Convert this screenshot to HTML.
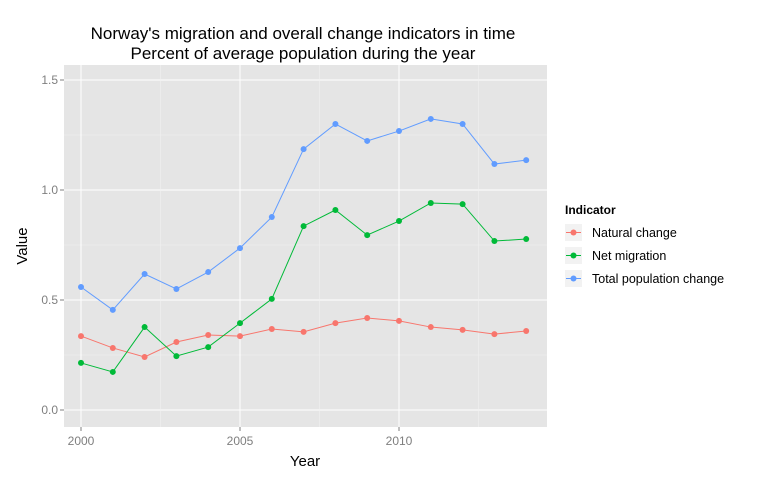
<!DOCTYPE html>
<html><head><meta charset="utf-8"><style>
body{margin:0;background:#fff;font-family:"Liberation Sans",Arial,sans-serif;}
</style></head><body>
<svg id="chart" width="768" height="480" xmlns="http://www.w3.org/2000/svg">
<text x="303" y="39" text-anchor="middle" font-size="17">Norway's migration and overall change indicators in time</text>
<text x="303" y="59" text-anchor="middle" font-size="17">Percent of average population during the year</text>
<rect x="64" y="65" width="483" height="362" fill="#e5e5e5"/>
<g id="grid"></g><g id="axes"></g><g id="series"></g>
<text x="305" y="466" text-anchor="middle" font-size="15">Year</text>
<text x="27" y="246" text-anchor="middle" font-size="15" transform="rotate(-90 27 246)">Value</text>
<g>
<text x="565" y="214" font-size="12" font-weight="bold">Indicator</text>
<g id="legend"></g>
</g>
</svg>
<script>
const years=[2000,2001,2002,2003,2004,2005,2006,2007,2008,2009,2010,2011,2012,2013,2014];
const natural=[0.336,0.282,0.241,0.309,0.341,0.336,0.368,0.355,0.395,0.418,0.405,0.377,0.364,0.345,0.359];
const netMigration=[0.214,0.173,0.377,0.245,0.286,0.395,0.505,0.836,0.909,0.795,0.859,0.941,0.936,0.768,0.777];
const total=[0.559,0.455,0.618,0.55,0.627,0.736,0.877,1.186,1.3,1.223,1.268,1.323,1.3,1.118,1.136];
const yTicks=[0,0.5,1.0,1.5];
const yTickLabels=["0.0","0.5","1.0","1.5"];
const xTicks=[2000,2005,2010];
const seriesNames=["Natural change","Net migration","Total population change"];
const NS="http://www.w3.org/2000/svg";
const X=v=>81+(v-2000)*31.8;
const Y=v=>410-v*220;
function mk(tag,attrs,parent){const e=document.createElementNS(NS,tag);for(const k in attrs)e.setAttribute(k,attrs[k]);parent.appendChild(e);return e;}
const grid=document.getElementById('grid'),axes=document.getElementById('axes'),ser=document.getElementById('series'),leg=document.getElementById('legend');
for(let i=0;i<yTicks.length;i++){
  const y=Y(yTicks[i]);
  const l=mk('line',{x1:64,x2:547,y1:y,y2:y,stroke:'#fff','stroke-width':1},grid);
  
  
  if(i<yTicks.length-1){const ym=Y((yTicks[i]+yTicks[i+1])/2);
    const m=mk('line',{x1:64,x2:547,y1:ym,y2:ym,stroke:'#f2f2f2','stroke-width':0.5},grid);
    
    }
  const t=mk('text',{x:58,y:y+4,'text-anchor':'end','font-size':12,fill:'#7f7f7f'},axes);t.textContent=yTickLabels[i];
  
  
  mk('line',{x1:60,x2:64,y1:y,y2:y,stroke:'#7f7f7f'},axes);
}
for(let i=0;i<xTicks.length;i++){
  const x=X(xTicks[i]);
  const l=mk('line',{x1:x,x2:x,y1:65,y2:427,stroke:'#fff','stroke-width':1},grid);
  
  
  const xm=X(xTicks[i]+2.5);
  if(xm<547){const m=mk('line',{x1:xm,x2:xm,y1:65,y2:427,stroke:'#f2f2f2','stroke-width':0.5},grid);
    
    }
  const t=mk('text',{x:x,y:445,'text-anchor':'middle','font-size':12,fill:'#7f7f7f'},axes);t.textContent=xTicks[i];
  
  
  mk('line',{x1:x,x2:x,y1:427,y2:431,stroke:'#7f7f7f'},axes);
}
const all=[natural,netMigration,total],cols=['#f8766d','#00ba38','#619cff'],keys=['natural-change','net-migration','total-population-change'];
all.forEach((vals,s)=>{
  const g=mk('g',{},ser);
  
  
  const p=mk('polyline',{points:vals.map((v,i)=>X(years[i])+','+Y(v)).join(' '),fill:'none',stroke:cols[s],'stroke-width':1},g);
  
  
  vals.forEach((v,i)=>{const c=mk('circle',{cx:X(years[i]),cy:Y(v),r:3,fill:cols[s]},g);
    
    });
  const ly=234+s*23;
  const e=mk('g',{},leg);
  
  
  mk('rect',{x:565,y:ly-10,width:17,height:17,fill:'#f2f2f2'},e);
  mk('line',{x1:566,x2:581,y1:ly-1.5,y2:ly-1.5,stroke:cols[s]},e);
  mk('circle',{cx:573.5,cy:ly-1.5,r:3,fill:cols[s]},e);
  const t=mk('text',{x:592,y:ly+3,'font-size':12.5},e);t.textContent=seriesNames[s];
});
</script>
</body></html>
